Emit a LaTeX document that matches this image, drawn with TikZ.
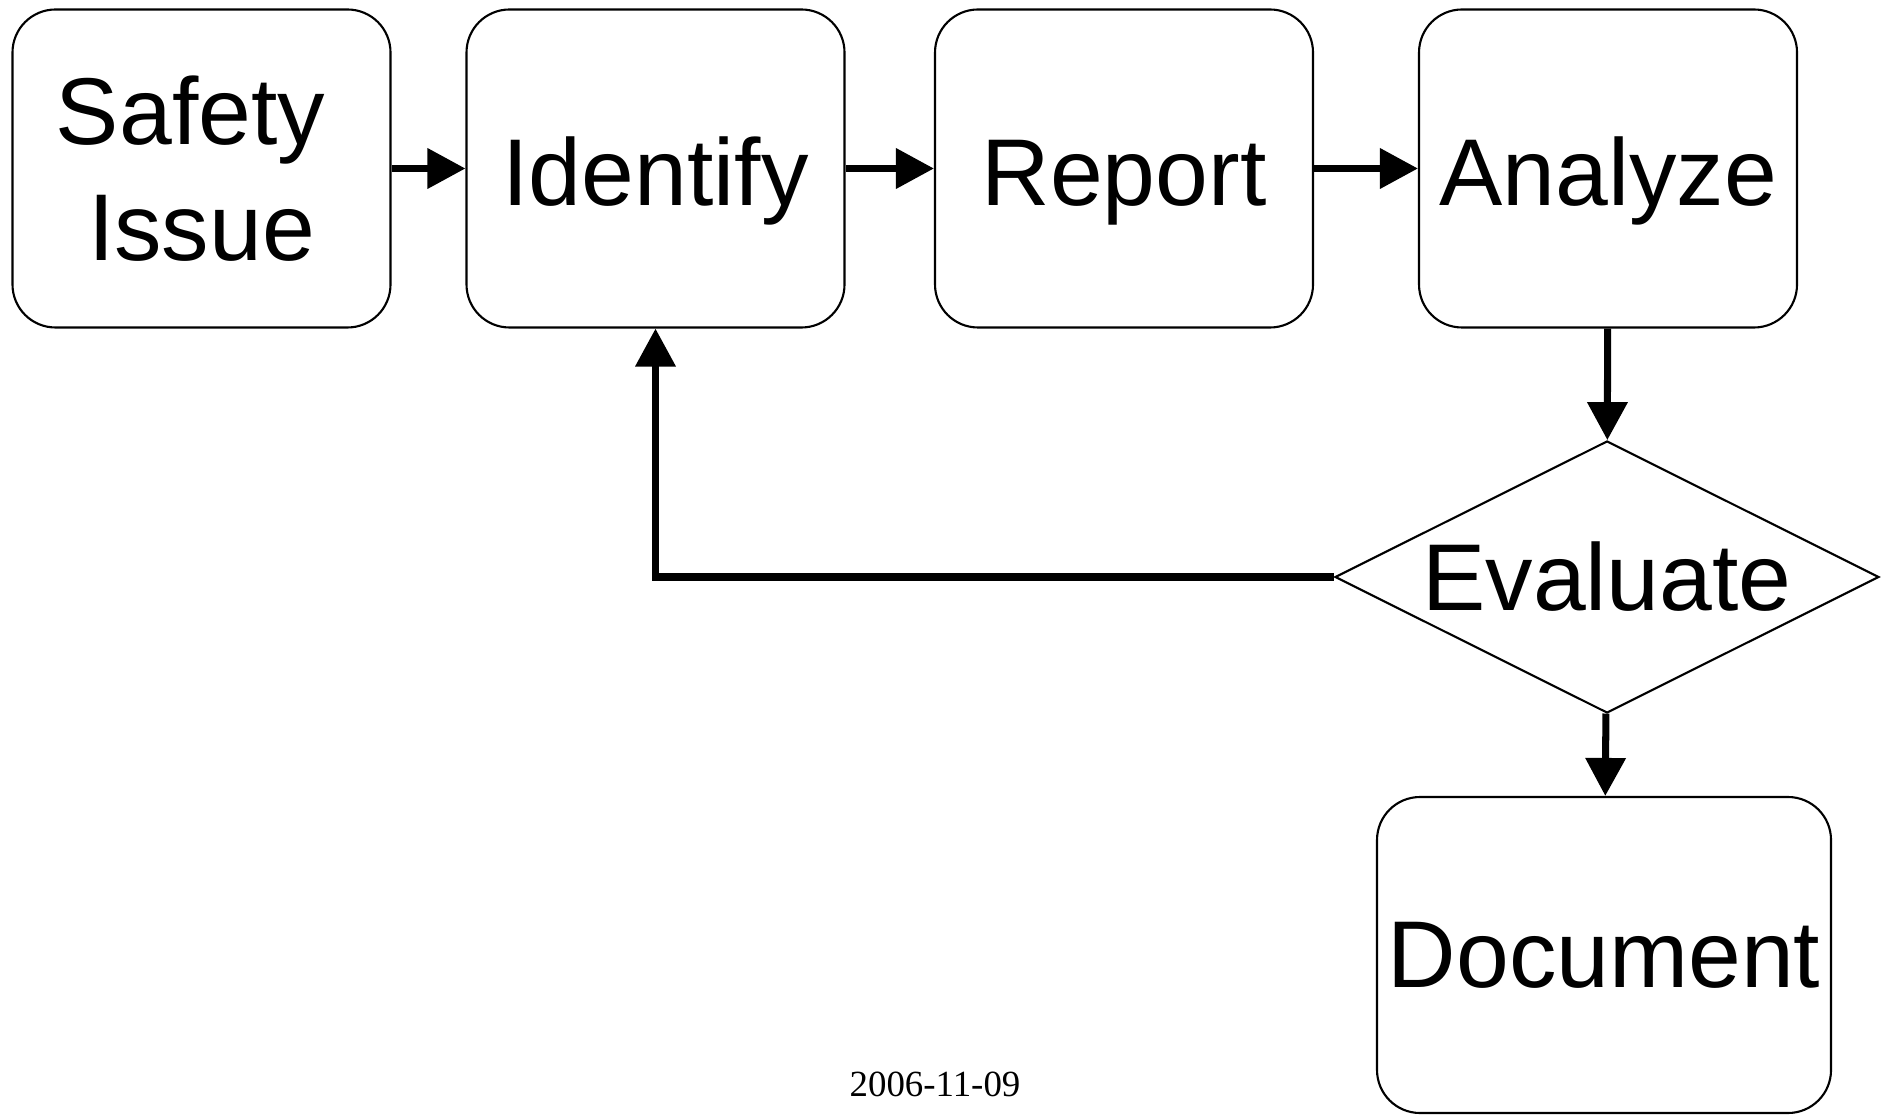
\documentclass[tikz,border=0pt]{standalone}
\usepackage{fontspec}
\setmainfont{Liberation Sans}
\newfontfamily\stampfont{Liberation Serif}
\usetikzlibrary{arrows.meta}
\usetikzlibrary{shapes.geometric}

\begin{document}
\begin{tikzpicture}[
        stage/.style={draw, line width=0.6pt, rounded corners=0.43cm, inner sep=0pt,
            minimum width=3.78cm, minimum height=3.18cm, align=center,
            font=\fontsize{27}{33}\selectfont},
        oneline/.style={text height=0.95cm, text depth=0.2cm},
        check/.style={draw, line width=0.6pt, diamond, aspect=2, inner sep=0pt,
            minimum width=5.44cm, minimum height=2.72cm,
            font=\fontsize{27}{33}\selectfont},
        flow/.style={line width=2pt, -{Triangle[length=3.8mm,width=3.9mm]}}
    ]
            \useasboundingbox (0,0) rectangle (18.86,11.14);

            \node[stage] (safety) at (2.015,9.455) {Safety\hspace*{0.22cm}\\Issue};
            \node[stage, oneline] (identify) at (6.555,9.455) {Identify};
            \node[stage, oneline] (report) at (11.24,9.455) {Report};
            \node[stage, oneline] (analyze) at (16.08,9.455) {Analyze};
            \node[check] (evaluate) at (16.07,5.37) {Evaluate};
            \node[stage, minimum width=4.54cm, minimum height=3.16cm] (document) at (16.04,1.59) {Document};

            \node[font=\stampfont\fontsize{10.5}{12}\selectfont] (date) at (9.35,0.30) {2006-11-09};

            \draw[flow] (safety) -- (identify);
            \draw[flow] (identify) -- (report);
            \draw[flow] (report) -- (analyze);
            \draw[flow] (analyze) -- (evaluate);
            \draw[flow] (evaluate) -- (document);
            % back to the start when the evaluation fails
            \draw[flow, line join=miter] (evaluate.west) -| (identify.south);
        \end{tikzpicture}
\end{document}
